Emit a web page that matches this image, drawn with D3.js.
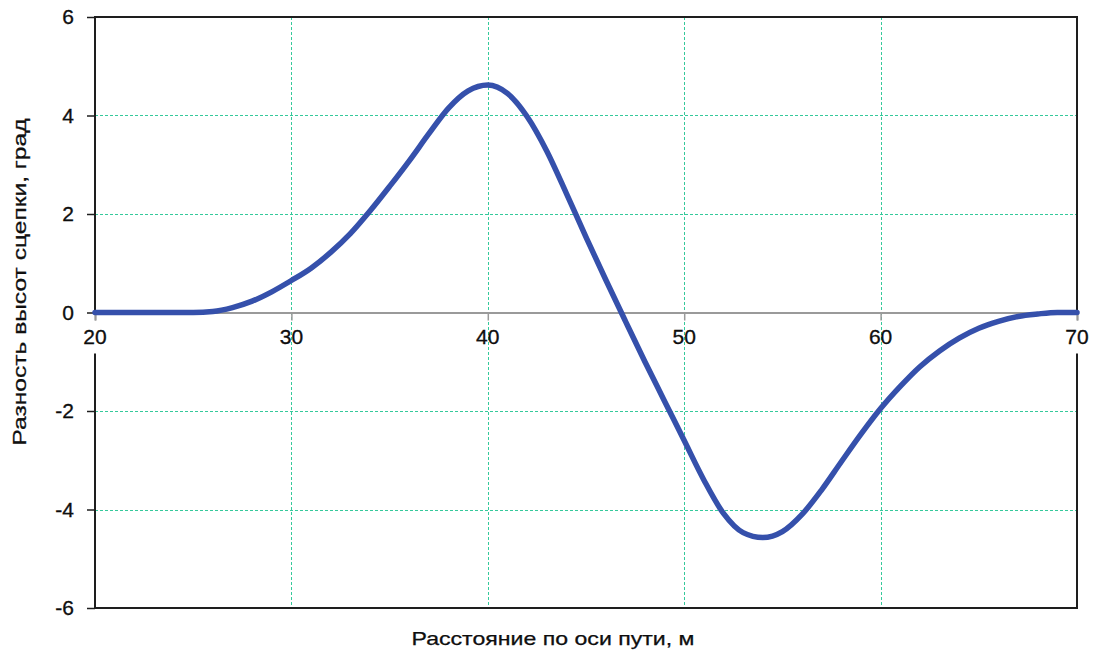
<!DOCTYPE html>
<html>
<head>
<meta charset="utf-8">
<script src="https://cdn.jsdelivr.net/npm/d3@7"></script>
<style>
  html, body { margin: 0; padding: 0; background: #fff; }
  svg { display: block; }
  text { font-family: "Liberation Sans", Arial, sans-serif; fill: #111; }
</style>
</head>
<body>
<svg id="chart" width="1094" height="653"></svg>
<script>
// ---- data ----
const distance = [20,21,22,23,24,25,26,27,28,29,30,31,32,33,34,35,36,37,38,39,40,41,42,43,44,45,46,47,48,49,50,51,52,53,54,55,56,57,58,59,60,61,62,63,64,65,66,67,68,69,70];
const heightDiff = [0,0,0,0,0,0,0.02,0.1,0.23,0.42,0.65,0.9,1.22,1.6,2.06,2.56,3.08,3.63,4.15,4.5,4.62,4.45,3.98,3.28,2.42,1.53,0.67,-0.17,-1.0,-1.8,-2.6,-3.4,-4.08,-4.47,-4.57,-4.45,-4.1,-3.6,-3.03,-2.47,-1.95,-1.5,-1.1,-0.78,-0.52,-0.32,-0.18,-0.08,-0.03,0,0];
const xTicks = [20,30,40,50,60,70];
const yTicks = [6,4,2,0,-2,-4,-6];
const xLabel = "Расстояние по оси пути, м";
const yLabel = "Разность высот сцепки, град";

// ---- layout ----
const svg = d3.select("#chart");
const L = 95, R = 1077, T = 17, B = 608;
const x = d3.scaleLinear().domain([20,70]).range([L,R]);
const y = d3.scaleLinear().domain([-6,6]).range([B,T]);
const snap = v => Math.round(v) + 0.5;

// grid
const gridColor = "#35c99b";
svg.append("g").selectAll("line").data(xTicks.filter(d => d !== 20 && d !== 70)).join("line")
  .attr("x1", d => snap(x(d))).attr("x2", d => snap(x(d))).attr("y1", T).attr("y2", B)
  .attr("stroke", gridColor).attr("stroke-width", 1).attr("stroke-dasharray", "3,2");
svg.append("g").selectAll("line").data(yTicks.filter(d => d !== 0 && Math.abs(d) !== 6)).join("line")
  .attr("x1", L).attr("x2", R).attr("y1", d => snap(y(d))).attr("y2", d => snap(y(d)))
  .attr("stroke", gridColor).attr("stroke-width", 1).attr("stroke-dasharray", "3,2");

// zero axis with ticks (gray)
const xAxis = d3.axisBottom(x).tickValues(xTicks).tickSize(8).tickFormat("");
const gx = svg.append("g").attr("transform", `translate(0,${y(0)})`).call(xAxis);
gx.select(".domain").attr("stroke", "#9a9a9a").attr("stroke-width", 2);
gx.selectAll(".tick line").attr("stroke", "#9a9a9a").attr("stroke-width", 1.5);

// x tick labels
svg.append("g").selectAll("text").data(xTicks).join("text")
  .attr("x", d => x(d)).attr("y", y(0) + 31)
  .attr("text-anchor", "middle").attr("font-size", 21).attr("fill", "#000")
  .attr("stroke", "#000").attr("stroke-width", 0.3)
  .text(d => d);

// borders
const gapTop = y(0), gapBottom = y(0) + 41;
const border = d3.path();
border.moveTo(L, gapTop); border.lineTo(L, T); border.lineTo(R, T); border.lineTo(R, gapTop);
border.moveTo(L, gapBottom); border.lineTo(L, B); border.lineTo(R, B); border.lineTo(R, gapBottom);
svg.append("path").attr("d", border.toString()).attr("fill", "none")
  .attr("stroke", "#1e1e1e").attr("stroke-width", 2);

// left axis ticks & labels
const yAxis = d3.axisLeft(y).tickValues(yTicks).tickSize(8).tickPadding(13).tickFormat(d => String(d).replace("\u2212","-"));
const gy = svg.append("g").attr("transform", `translate(${L},0)`).call(yAxis);
gy.select(".domain").remove();
gy.selectAll(".tick line").attr("stroke", "#1e1e1e").attr("stroke-width", 1.5);
gy.selectAll(".tick text").attr("font-size", 21).attr("fill", "#000")
  .attr("stroke", "#000").attr("stroke-width", 0.3)
  .attr("font-family", '"Liberation Sans", Arial, sans-serif');

// curve
const line = d3.line().x((d,i) => x(distance[i])).y(d => y(d)).curve(d3.curveMonotoneX);
svg.append("path").datum(heightDiff).attr("d", line)
  .attr("fill", "none").attr("stroke", "#3550ab").attr("stroke-width", 5.5)
  .attr("stroke-linejoin", "round").attr("stroke-linecap", "round");

// axis titles
svg.append("text").attr("x", 553).attr("y", 645).attr("text-anchor", "middle")
  .attr("font-size", 19).attr("textLength", 283).attr("lengthAdjust", "spacingAndGlyphs")
  .attr("fill", "#000").attr("stroke", "#000").attr("stroke-width", 0.25).text(xLabel);
svg.append("text").attr("transform", `translate(26,282) rotate(-90)`)
  .attr("text-anchor", "middle").attr("font-size", 19).attr("textLength", 327)
  .attr("lengthAdjust", "spacingAndGlyphs").attr("fill", "#000")
  .attr("stroke", "#000").attr("stroke-width", 0.25).text(yLabel);
</script>
</body>
</html>
